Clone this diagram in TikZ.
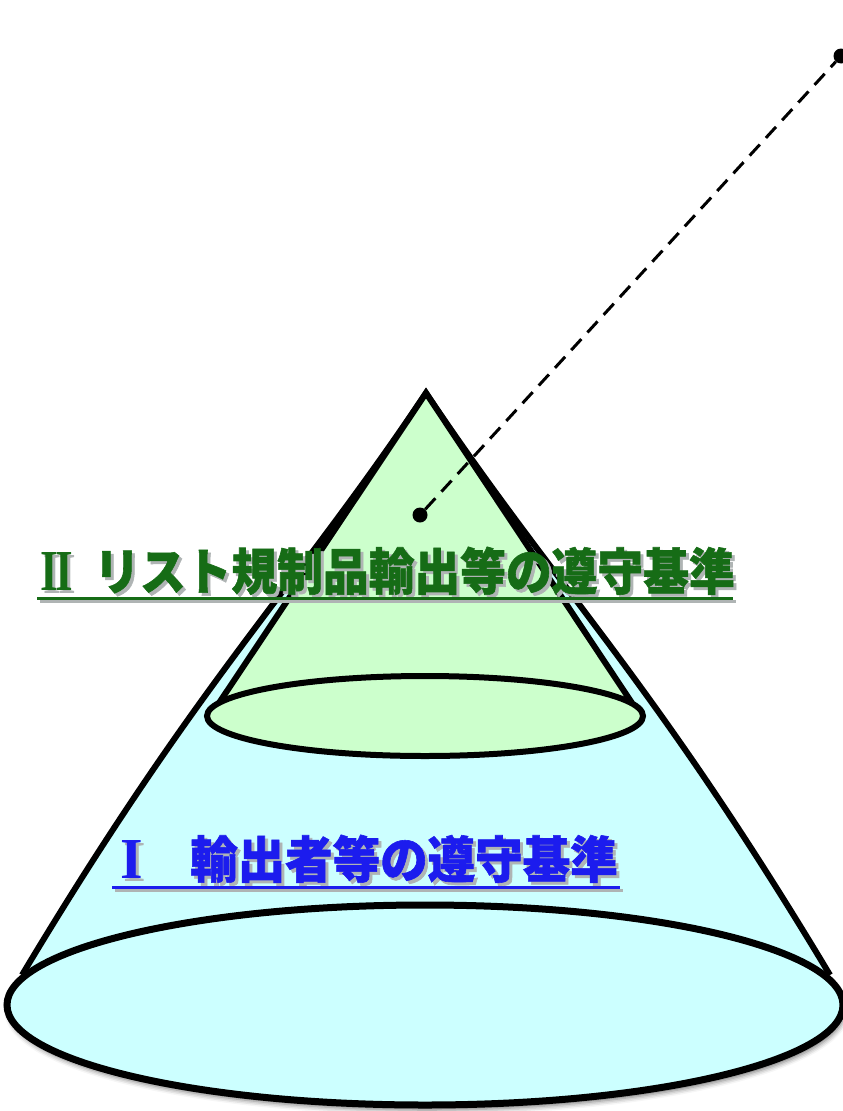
\documentclass[tikz,border=0pt]{standalone}
\usepackage{fontspec}
\newfontfamily\jp{Noto Sans CJK JP}[BoldFeatures={FakeBold=1.2}]
\newfontfamily\romfont{Liberation Serif}
\usetikzlibrary{shadows.blur}
\definecolor{conecyan}{HTML}{CCFFFF}
\definecolor{conegreen}{HTML}{CCFFCC}
\definecolor{txtgreen}{RGB}{22,108,22}
\definecolor{txtblue}{RGB}{28,28,238}
\definecolor{shadowgray}{RGB}{175,180,180}
\newcommand{\romII}{{\romfont\bfseries\fontsize{58}{60}\selectfont\scalebox{0.78}[1]{I\kern-0.06em I}}}
\newcommand{\romI}{{\romfont\bfseries\fontsize{58}{60}\selectfont I}}
\begin{document}
\begin{tikzpicture}[x=1pt,y=-1pt,
  outline/.style={line width=6pt, draw=black},
  ellout/.style={line width=7pt, draw=black},
  lbl/.style={font=\jp\bfseries\fontsize{50}{54}\selectfont, inner sep=0pt, anchor=base west},
  uline/.style={line width=3pt},
  dot/.style={circle, fill=black, inner sep=0pt, minimum size=15pt},
  dashline/.style={line width=3pt, dash pattern=on 15pt off 9pt}]
\useasboundingbox (0,0) rectangle (843,1111);
% big cone
\coordinate (apex) at (426,393);
\coordinate (bl) at (22,975);
\coordinate (br) at (830,975);
\fill[conecyan] (apex) .. controls (292,593) and (202,675) .. (bl) -- (br) .. controls (650,675) and (560,593) .. (apex) -- cycle;
\draw[outline] (bl) .. controls (202,675) and (292,593) .. (apex) .. controls (560,593) and (650,675) .. (br);
\draw[ellout, fill=conecyan, blur shadow={shadow xshift=2pt, shadow yshift=-5pt, shadow blur radius=5pt, shadow opacity=55}] (425,1005) ellipse [x radius=418, y radius=100];
% green cone
\coordinate (gl) at (219,703);
\coordinate (gr) at (632,703);
\fill[conegreen] (apex) -- (gl) -- (gr) -- cycle;
\draw[outline] (gl) -- (apex) -- (gr);
\draw[outline, fill=conegreen] (425,716) ellipse [x radius=218, y radius=40];
% labels
\node[lbl, text=shadowgray] at (43,593) {\romII};
\node[lbl, text=shadowgray] at (97,593) {\scalebox{0.915}[1]{リスト規制品輸出等の遵守基準}};
\draw[uline, shadowgray] (40,601) -- (736,601);
\node[lbl, text=txtgreen] (t2a) at (40,590) {\romII};
\node[lbl, text=txtgreen] (t2) at (94,590) {\scalebox{0.915}[1]{リスト規制品輸出等の遵守基準}};
\draw[uline, txtgreen] (37,598) -- (733,598);
\node[lbl, text=shadowgray] at (123,881) {\romI};
\node[lbl, text=shadowgray] at (193,881) {\scalebox{0.95}[1]{輸出者等の遵守基準}};
\draw[uline, shadowgray] (115,890) -- (623,890);
\node[lbl, text=txtblue] (t1a) at (120,878) {\romI};
\node[lbl, text=txtblue] (t1) at (190,878) {\scalebox{0.95}[1]{輸出者等の遵守基準}};
\draw[uline, txtblue] (112,887) -- (620,887);
% pointer
\node[dot] (d1) at (420,515) {};
\node[dot] (d2) at (841,56) {};
\draw[dashline] (d1) -- (d2);
\end{tikzpicture}
\end{document}
